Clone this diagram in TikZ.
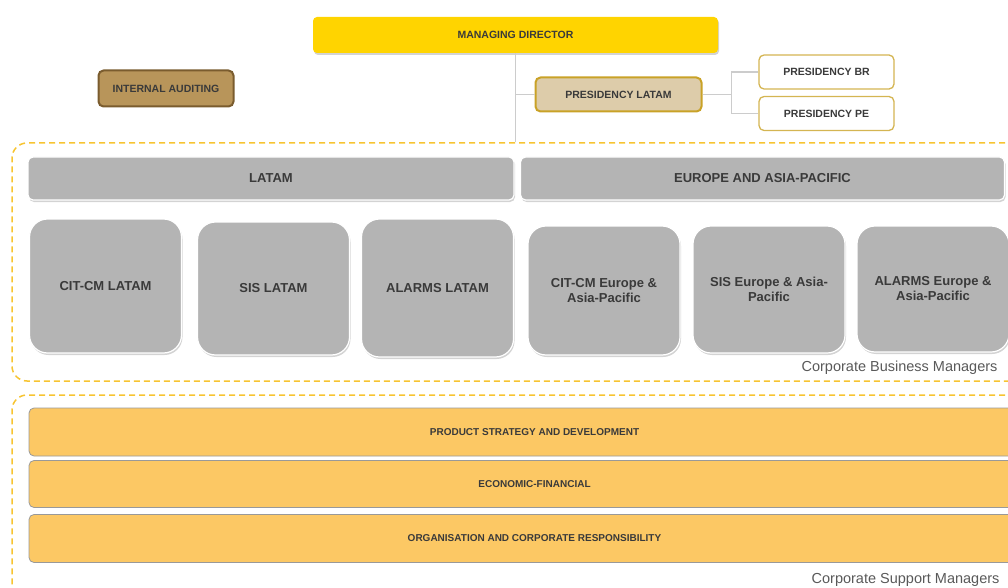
\documentclass[tikz,border=0pt]{standalone}
\usepackage{fontspec}
\setmainfont{Liberation Sans}
\usetikzlibrary{positioning, shadows}
\definecolor{mdyellow}{HTML}{FFD400}
\definecolor{audfill}{HTML}{B8955A}
\definecolor{auddraw}{HTML}{7A5C2E}
\definecolor{presfill}{HTML}{DDCCAA}
\definecolor{presdraw}{HTML}{C9A227}
\definecolor{unitgray}{HTML}{B4B4B4}
\definecolor{suporange}{HTML}{FCC864}
\definecolor{zonedash}{HTML}{F7C431}
\definecolor{txtdark}{HTML}{3A3A3A}
\definecolor{lblgray}{HTML}{595959}

\begin{document}
\begin{tikzpicture}[x=1pt, y=-1pt,
    shd/.style={drop shadow={shadow xshift=1pt, shadow yshift=-2pt, opacity=0.35}},
    mgr/.style={fill=mdyellow, rounded corners=4pt, shd,
                minimum width=405pt, minimum height=36pt, text=txtdark,
                font=\fontsize{10.5}{12}\selectfont\bfseries},
    audit/.style={draw=auddraw, fill=audfill, line width=2pt, rounded corners=5pt,
                minimum width=135pt, minimum height=36pt, text=txtdark,
                font=\fontsize{10.5}{12}\selectfont\bfseries},
    pres/.style={draw=presdraw, fill=presfill, line width=2pt, rounded corners=5pt,
                minimum width=166pt, minimum height=34pt, text=txtdark,
                font=\fontsize{10.5}{12}\selectfont\bfseries},
    sub/.style={draw=presdraw!80, fill=white, line width=1.3pt, rounded corners=5pt,
                minimum width=135pt, minimum height=34pt, text=txtdark,
                font=\fontsize{10.5}{12}\selectfont\bfseries},
    region/.style={draw=white, fill=unitgray, line width=1.2pt, rounded corners=5pt, shd,
                minimum height=43pt, text=txtdark,
                font=\fontsize{13}{15}\selectfont\bfseries},
    unit/.style={draw=white, fill=unitgray, line width=1.2pt, rounded corners=18pt, shd,
                minimum width=152pt, align=center, text=txtdark,
                font=\fontsize{13}{15}\selectfont\bfseries},
    support/.style={draw=black!40, fill=suporange, line width=0.8pt, rounded corners=5pt,
                minimum width=1011pt, minimum height=47pt, text=txtdark,
                font=\fontsize{10}{12}\selectfont\bfseries},
    zone/.style={draw=zonedash, dashed, dash pattern=on 6pt off 4pt, line width=1.5pt,
                rounded corners=15pt},
    zonelbl/.style={anchor=east, text=lblgray, font=\fontsize{14.5}{16}\selectfont},
    conn/.style={draw=black!20, line width=1.6pt},
]
    \useasboundingbox (0,0) rectangle (1008,588);
    \clip (0,0) rectangle (1008,588);

    % dashed groups
    \node[zone, minimum width=1018pt, minimum height=238pt] (bizzone) at (521, 262) {};
    \node[zone, minimum width=1018pt, minimum height=205pt] (supzone) at (521, 497.5) {};
    \node[zonelbl] (bizlbl) at (1001, 368) {Corporate Business Managers};
    \node[zonelbl] (suplbl) at (1003, 580) {Corporate Support Managers};

    % top of the chart
    \node[mgr] (md) at (515.5, 35) {MANAGING DIRECTOR};
    \node[audit] (audit) at (166, 88.5) {INTERNAL AUDITING};
    \node[pres] (plat) at (618.5, 94.5) {PRESIDENCY LATAM};
    \node[sub] (pbr) at (826.5, 72) {PRESIDENCY BR};
    \node[sub] (ppe) at (826.5, 113.5) {PRESIDENCY PE};

    \draw[conn] (md.south) -- (md.south |- bizzone.north);
    \draw[conn] (md.south |- plat.west) -- (plat.west);
    \coordinate (fork) at ([xshift=29pt]plat.east);
    \draw[conn] (plat.east) -- (fork);
    \draw[conn] (pbr.west) -| (fork) |- (ppe.west);

    % business units
    \node[region, minimum width=486pt] (latam) at (271, 178.5) {LATAM};
    \node[region, minimum width=484pt] (eap) at (762.5, 178.5) {EUROPE AND ASIA-PACIFIC};

    \node[unit, minimum height=134pt] (citla) at (105.5, 286) {CIT-CM LATAM};
    \node[unit, minimum height=133pt] (sisla) at (273.5, 288.5) {SIS LATAM};
    \node[unit, minimum height=138pt] (alala) at (437.5, 288) {ALARMS LATAM};
    \node[unit, minimum height=129pt] (citeu) at (604, 290.5) {CIT-CM Europe \&\\Asia-Pacific};
    \node[unit, minimum height=127pt] (siseu) at (769, 289.5) {SIS Europe \& Asia-\\Pacific};
    \node[unit, minimum height=126pt] (alaeu) at (933, 289) {ALARMS Europe \&\\Asia-Pacific};

    % support functions
    \node[support, minimum height=48pt] (prod) at (534.5, 432) {PRODUCT STRATEGY AND DEVELOPMENT};
    \node[support] (econ) at (534.5, 484) {ECONOMIC-FINANCIAL};
    \node[support, minimum height=48pt] (orgcr) at (534.5, 538.5) {ORGANISATION AND CORPORATE RESPONSIBILITY};
\end{tikzpicture}
\end{document}
